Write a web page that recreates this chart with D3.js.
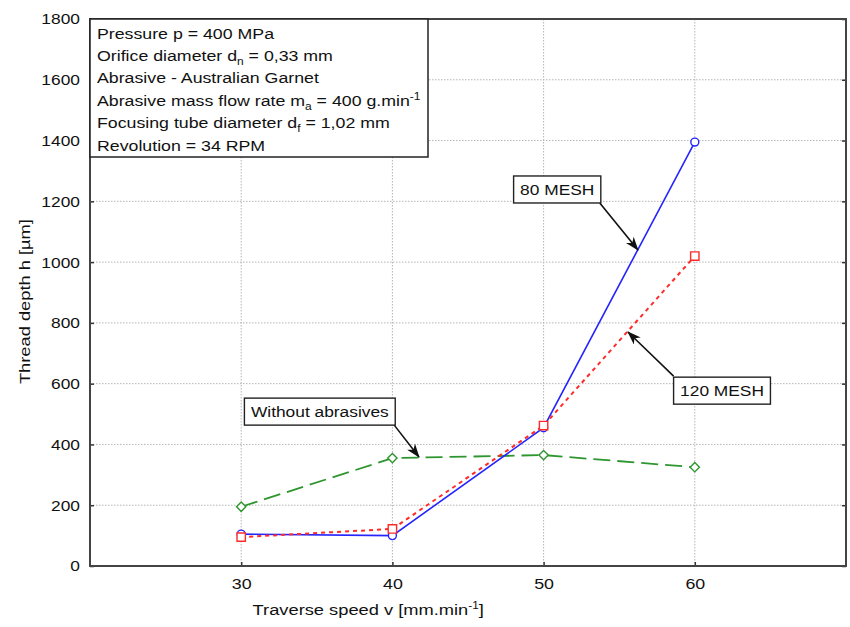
<!DOCTYPE html>
<html>
<head>
<meta charset="utf-8">
<script src="https://cdn.jsdelivr.net/npm/d3@7"></script>
<style>
  body { margin: 0; background: #fff; }
  text { font-family: "Liberation Sans", Arial, sans-serif; fill: #111; }
</style>
</head>
<body>
<div id="chart"></div>
<script>
// data
const speeds = [30, 40, 50, 60];
const mesh80 = [105, 100, 455, 1395];
const mesh120 = [95, 122, 462, 1020];
const noAbrasive = [195, 355, 365, 325];

const xTicks = [30, 40, 50, 60];
const yTicks = [0, 200, 400, 600, 800, 1000, 1200, 1400, 1600, 1800];

const infoLines = [
  [["Pressure p = 400 MPa"]],
  [["Orifice diameter d"], ["n", "sub"], [" = 0,33 mm"]],
  [["Abrasive - Australian Garnet"]],
  [["Abrasive mass flow rate m"], ["a", "sub"], [" = 400 g.min"], ["-1", "sup"]],
  [["Focusing tube diameter d"], ["f", "sub"], [" = 1,02 mm"]],
  [["Revolution = 34 RPM"]]
];

// callouts: box centre and arrow tip in data units
const callouts = [
  { label: "80 MESH", bx: 50.9, by: 1239, corner: "br", tx: 56.24, ty: 1040 },
  { label: "120 MESH", bx: 61.8, by: 577, corner: "tl", tx: 55.58, ty: 770 },
  { label: "Without abrasives", bx: 35.2, by: 508, corner: "br", tx: 41.76, ty: 359 }
];

const W = 850, H = 627;
const margin = { top: 19, right: 4, bottom: 61, left: 90 };
const width = W - margin.left - margin.right;
const height = H - margin.top - margin.bottom;
const stretch = 1.18; // the source font is a wide grotesque

const svg = d3.select("#chart").append("svg")
  .attr("width", W)
  .attr("height", H);

const g = svg.append("g")
  .attr("transform", `translate(${margin.left},${margin.top})`);

const x = d3.scaleLinear().domain([20, 70]).range([0, width]);
const y = d3.scaleLinear().domain([0, 1800]).range([height, 0]);

// grid
g.append("g").selectAll("line").data(yTicks.slice(1, -1)).join("line")
  .attr("x1", 0).attr("x2", width)
  .attr("y1", d => y(d)).attr("y2", d => y(d))
  .attr("stroke", "#b5b5b5").attr("stroke-dasharray", "1.5,1.5");
g.append("g").selectAll("line").data(xTicks).join("line")
  .attr("x1", d => x(d)).attr("x2", d => x(d))
  .attr("y1", 0).attr("y2", height)
  .attr("stroke", "#b5b5b5").attr("stroke-dasharray", "1.5,1.5");

// axes
const yAxis = g.append("g")
  .call(d3.axisLeft(y).tickValues(yTicks).tickFormat(d3.format("d")).tickSize(-4).tickPadding(9));
const yAxisR = g.append("g")
  .attr("transform", `translate(${width},0)`)
  .call(d3.axisRight(y).tickValues(yTicks).tickSize(-4).tickFormat(""));
const xAxis = g.append("g")
  .attr("transform", `translate(0,${height})`)
  .call(d3.axisBottom(x).tickValues(xTicks).tickSize(-4).tickPadding(12));

[yAxis, yAxisR, xAxis].forEach(a => {
  a.select(".domain").remove();
  a.selectAll(".tick line").attr("stroke", "#333").attr("stroke-width", 1.5);
});
yAxis.selectAll("text").attr("font-size", 15.5).attr("fill", "#111")
  .attr("font-family", "Liberation Sans, Arial, sans-serif")
  .attr("transform", "scale(1.12,1)");
xAxis.selectAll("text").attr("font-size", 15.5).attr("fill", "#111")
  .attr("font-family", "Liberation Sans, Arial, sans-serif")
  .attr("transform", "scale(1.15,1)");

// frame
g.append("rect")
  .attr("width", width).attr("height", height)
  .attr("fill", "none").attr("stroke", "#444").attr("stroke-width", 2);

// axis titles
const xt = svg.append("text")
  .attr("transform", `translate(${margin.left + x(38.4)},${H - 12}) scale(${stretch},1)`)
  .attr("text-anchor", "middle").attr("font-size", 15.5)
  .text("Traverse speed v [mm.min");
xt.append("tspan").attr("font-size", 10).attr("dy", -6).text("-1");
xt.append("tspan").attr("dy", 6).text("]");

svg.append("text")
  .attr("transform", `translate(30,${margin.top + y(870)}) rotate(-90) scale(${stretch},1)`)
  .attr("text-anchor", "middle").attr("font-size", 15.5)
  .text("Thread depth h [\u00b5m]");

// series (red drawn last, its squares sit on top in the source)
const series = [
  { vals: noAbrasive, color: "#2e962e", dash: "17,7", w: 1.8, shape: "diamond" },
  { vals: mesh80, color: "#2424ff", dash: null, w: 1.6, shape: "circle" },
  { vals: mesh120, color: "#ff2a2a", dash: "4,4", w: 2, shape: "square" }
];

const line = d3.line().x(d => x(d[0])).y(d => y(d[1]));

series.forEach(s => {
  const pts = speeds.map((v, i) => [v, s.vals[i]]);
  g.append("path")
    .datum(pts)
    .attr("d", line)
    .attr("fill", "none")
    .attr("stroke", s.color)
    .attr("stroke-width", s.w)
    .attr("stroke-dasharray", s.dash);
  const sym = s.shape === "circle" ? d3.symbolCircle
    : s.shape === "square" ? d3.symbolSquare : d3.symbolDiamond2;
  const size = s.shape === "circle" ? 50 : s.shape === "square" ? 70 : 55;
  g.append("g").selectAll("path").data(pts).join("path")
    .attr("transform", d => `translate(${x(d[0])},${y(d[1])})`)
    .attr("d", d3.symbol().type(sym).size(size))
    .attr("fill", "#fff")
    .attr("stroke", s.color)
    .attr("stroke-width", 1.4);
});

// info box
const info = g.append("g");
info.append("rect")
  .attr("x", 0).attr("y", 0)
  .attr("width", 338).attr("height", 138)
  .attr("fill", "#fff").attr("stroke", "#222").attr("stroke-width", 1.5);

infoLines.forEach((parts, i) => {
  const t = info.append("text")
    .attr("transform", `translate(7,${19.5 + i * 22.4}) scale(1.2,1)`)
    .attr("font-size", 14.8);
  let shift = 0;
  parts.forEach(p => {
    const ts = t.append("tspan").text(p[0]);
    let want = 0;
    if (p[1] === "sub") { want = 4; ts.attr("font-size", 10); }
    if (p[1] === "sup") { want = -6; ts.attr("font-size", 10); }
    if (want !== shift) ts.attr("dy", want - shift);
    shift = want;
  });
});

// callouts
const defs = svg.append("defs");
defs.append("marker")
  .attr("id", "arrow")
  .attr("viewBox", "0 0 14 10")
  .attr("refX", 13).attr("refY", 5)
  .attr("markerWidth", 14).attr("markerHeight", 10)
  .attr("markerUnits", "userSpaceOnUse")
  .attr("orient", "auto")
  .append("path")
  .attr("d", "M0,0 L14,5 L0,10 L4,5 Z")
  .attr("fill", "#111");

callouts.forEach(c => {
  const cg = g.append("g");
  const cx = x(c.bx), cy = y(c.by);
  const t = cg.append("text")
    .attr("transform", `translate(${cx},${cy + 5.5}) scale(1.12,1)`)
    .attr("text-anchor", "middle")
    .attr("font-size", 15.5)
    .text(c.label);
  const bw = t.node().getComputedTextLength() * 1.12 + 13;
  const bh = 27;
  const x0 = cx - bw / 2, y0 = cy - bh / 2;
  const sx = c.corner === "br" ? x0 + bw - 1 : x0;
  const sy = c.corner === "br" ? y0 + bh : y0 - 1;
  cg.insert("line", "text")
    .attr("x1", sx).attr("y1", sy)
    .attr("x2", x(c.tx)).attr("y2", y(c.ty))
    .attr("stroke", "#111").attr("stroke-width", 1.6)
    .attr("marker-end", "url(#arrow)");
  cg.insert("rect", "text")
    .attr("x", x0).attr("y", y0)
    .attr("width", bw).attr("height", bh)
    .attr("fill", "#fff").attr("stroke", "#222").attr("stroke-width", 1.4);
});
</script>
</body>
</html>
